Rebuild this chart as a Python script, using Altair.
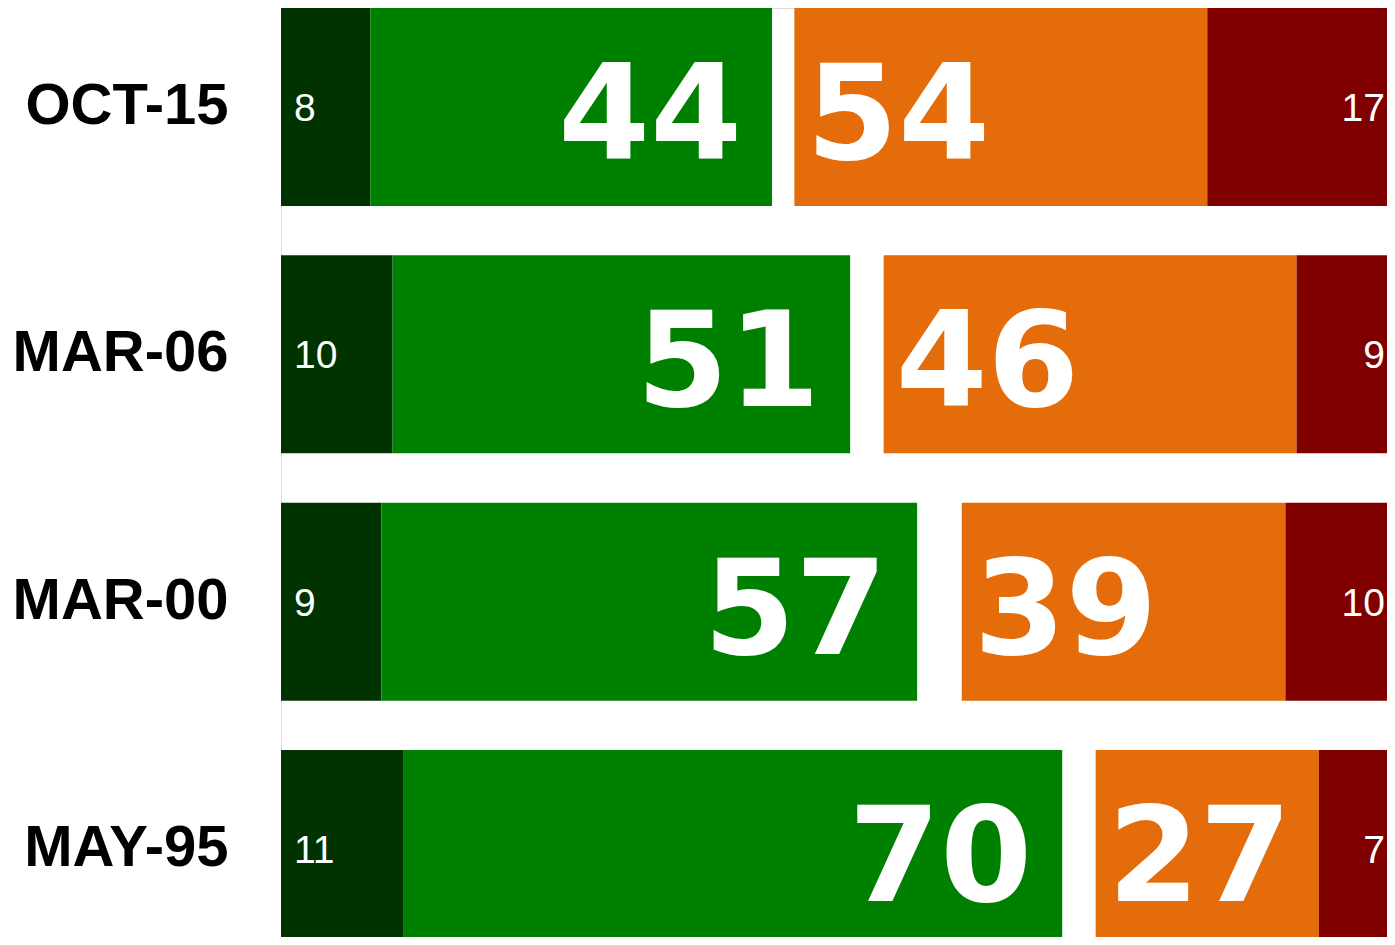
import altair as alt
import pandas as pd

dates = ["OCT-15", "MAR-06", "MAR-00", "MAY-95"]
very_fav = [8, 10, 9, 11]
total_fav = [44, 51, 57, 70]
total_unfav = [54, 46, 39, 27]
very_unfav = [17, 9, 10, 7]

colors = {"vf": "#003300", "f": "#008000", "u": "#E46C0A", "vu": "#800000"}
FULL = 100

seg_rows = []
for d, vf, f, u, vu in zip(dates, very_fav, total_fav, total_unfav, very_unfav):
    seg_rows.append({"date": d, "seg": "vf", "x": 0, "x2": vf})
    seg_rows.append({"date": d, "seg": "f", "x": vf, "x2": f})
    seg_rows.append({"date": d, "seg": "u", "x": FULL - u, "x2": FULL - vu})
    seg_rows.append({"date": d, "seg": "vu", "x": FULL - vu, "x2": FULL})
seg = pd.DataFrame(seg_rows)

lab = pd.DataFrame({
    "date": dates,
    "vf": very_fav,
    "f": total_fav,
    "u": total_unfav,
    "vu": very_unfav,
})
lab["u_start"] = FULL - lab["u"]
lab["full"] = FULL
lab["zero"] = 0

# plot area is cropped on the right and bottom like the reference
xs = alt.Scale(domain=[0, FULL], nice=False, zero=False, range=[0, 1116])
ys = alt.Scale(domain=dates, paddingInner=0.2, paddingOuter=0, range=[0, 940])
yenc = alt.Y("date:N", scale=ys, sort=dates, title=None,
             axis=alt.Axis(domain=False, ticks=False, labelFontSize=58, labelLimit=0,
                           labelFont="Liberation Sans", labelFontWeight="bold",
                           labelColor="#000000", labelPadding=53))

bars = alt.Chart(seg).mark_bar(clip=True).encode(
    x=alt.X("x:Q", scale=xs, axis=None),
    x2="x2:Q",
    y=yenc,
    color=alt.Color("seg:N", scale=alt.Scale(domain=list(colors.keys()),
                                              range=list(colors.values())),
                    legend=None),
)

small_font = "Liberation Sans Narrow, Liberation Sans"
big_font = "DejaVu Sans"

t_vf = alt.Chart(lab).mark_text(align="left", baseline="middle", dx=13, dy=2,
                                fontSize=39, font=small_font, color="white").encode(
    x=alt.X("zero:Q", scale=xs), y=alt.Y("date:N", scale=ys, sort=dates), text="vf:Q")
t_vu = alt.Chart(lab).mark_text(align="right", baseline="middle", dx=-12, dy=2,
                                fontSize=39, font=small_font, color="white").encode(
    x=alt.X("full:Q", scale=xs), y=alt.Y("date:N", scale=ys, sort=dates), text="vu:Q")
t_f = alt.Chart(lab).mark_text(align="right", baseline="middle", dx=-30, dy=12,
                               fontSize=132, font=big_font, fontWeight="bold",
                               color="white").encode(
    x=alt.X("f:Q", scale=xs), y=alt.Y("date:N", scale=ys, sort=dates), text="f:Q")
t_u = alt.Chart(lab).mark_text(align="left", baseline="middle", dx=12, dy=12,
                               fontSize=132, font=big_font, fontWeight="bold",
                               color="white").encode(
    x=alt.X("u_start:Q", scale=xs), y=alt.Y("date:N", scale=ys, sort=dates), text="u:Q")

chart = alt.layer(bars, t_vf, t_vu, t_f, t_u).properties(
    width=1106, height=929,
    autosize=alt.AutoSizeParams(type="none"),
    padding={"left": 273, "top": 0, "right": 0, "bottom": 0},
).configure_view(stroke=None).configure(background="white")

chart.save("out.html", embed_options={"renderer": "svg", "actions": False})
